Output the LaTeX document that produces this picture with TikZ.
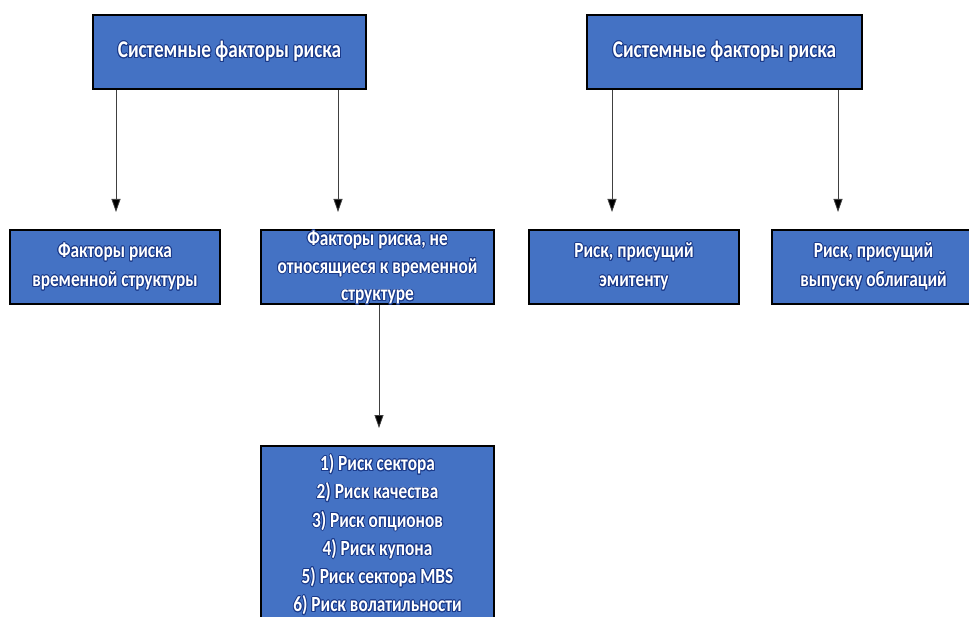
\documentclass[tikz,border=0pt]{standalone}
\usepackage{fontspec}
\setmainfont{Carlito}[FakeStretch=0.8]
\usepackage[copies]{contour}
\contourlength{0.9pt}
\usetikzlibrary{arrows.meta}
\definecolor{boxblue}{HTML}{4472C4}
\definecolor{glow}{HTML}{1A3A8A}
\newcommand{\gl}[1]{\contour{glow}{#1}}
\tikzset{
  x=1pt, y=1pt,
  box/.style={draw=black, line width=1.6pt, fill=boxblue, rectangle, inner sep=0pt,
    minimum height=74pt, text=white, align=center,
    font=\fontsize{21.6}{29}\selectfont\bfseries},
  topbox/.style={box, font=\fontsize{24}{29}\selectfont\bfseries},
  lbl/.style={text=white, align=center, inner sep=0pt, font=\fontsize{21.6}{27.8}\selectfont\bfseries},
  arr/.style={draw=black!75, line width=0.8pt, -{Triangle[width=9pt,length=13pt,fill=black]}}
}
\begin{document}
\begin{tikzpicture}
\useasboundingbox (0,0) rectangle (969,-617);
\node[topbox, minimum width=273pt] (A) at (229.5,-52) {\gl{Системные факторы риска}};
\node[topbox, minimum width=275pt] (B) at (724.5,-52) {\gl{Системные факторы риска}};
\node[box, minimum width=210pt] (C) at (115,-267) {\gl{Факторы риска}\\\gl{временной структуры}};
\node[box, minimum width=233pt] (D) at (377.5,-267) {};
\node[lbl] (Dt) at (377.5,-268) {\gl{Факторы риска, не}\\\gl{относящиеся к временной}\\\gl{структуре}};
\node[box, minimum width=210pt] (E) at (634,-267) {\gl{Риск, присущий}\\\gl{эмитенту}};
\node[box, minimum width=203pt] (F) at (873.5,-267) {\gl{Риск, присущий}\\\gl{выпуску облигаций}};
\node[box, minimum width=233pt, minimum height=179pt, anchor=north,
  font=\fontsize{21.6}{28.2}\selectfont\bfseries] (G) at (377.5,-445)
  {\gl{1) Риск сектора}\\\gl{2) Риск качества}\\\gl{3) Риск опционов}\\\gl{4) Риск купона}\\\gl{5) Риск сектора MBS}\\\gl{6) Риск волатильности}};
\coordinate (a1) at (116,-212);
\coordinate (a2) at (338,-212);
\coordinate (b1) at (612,-212);
\coordinate (b2) at (838,-212);
\coordinate (d1) at (379,-428);
\draw[arr] (A.south -| a1) -- (a1);
\draw[arr] (A.south -| a2) -- (a2);
\draw[arr] (B.south -| b1) -- (b1);
\draw[arr] (B.south -| b2) -- (b2);
\draw[arr] (D.south -| d1) -- (d1);
\end{tikzpicture}
\end{document}
